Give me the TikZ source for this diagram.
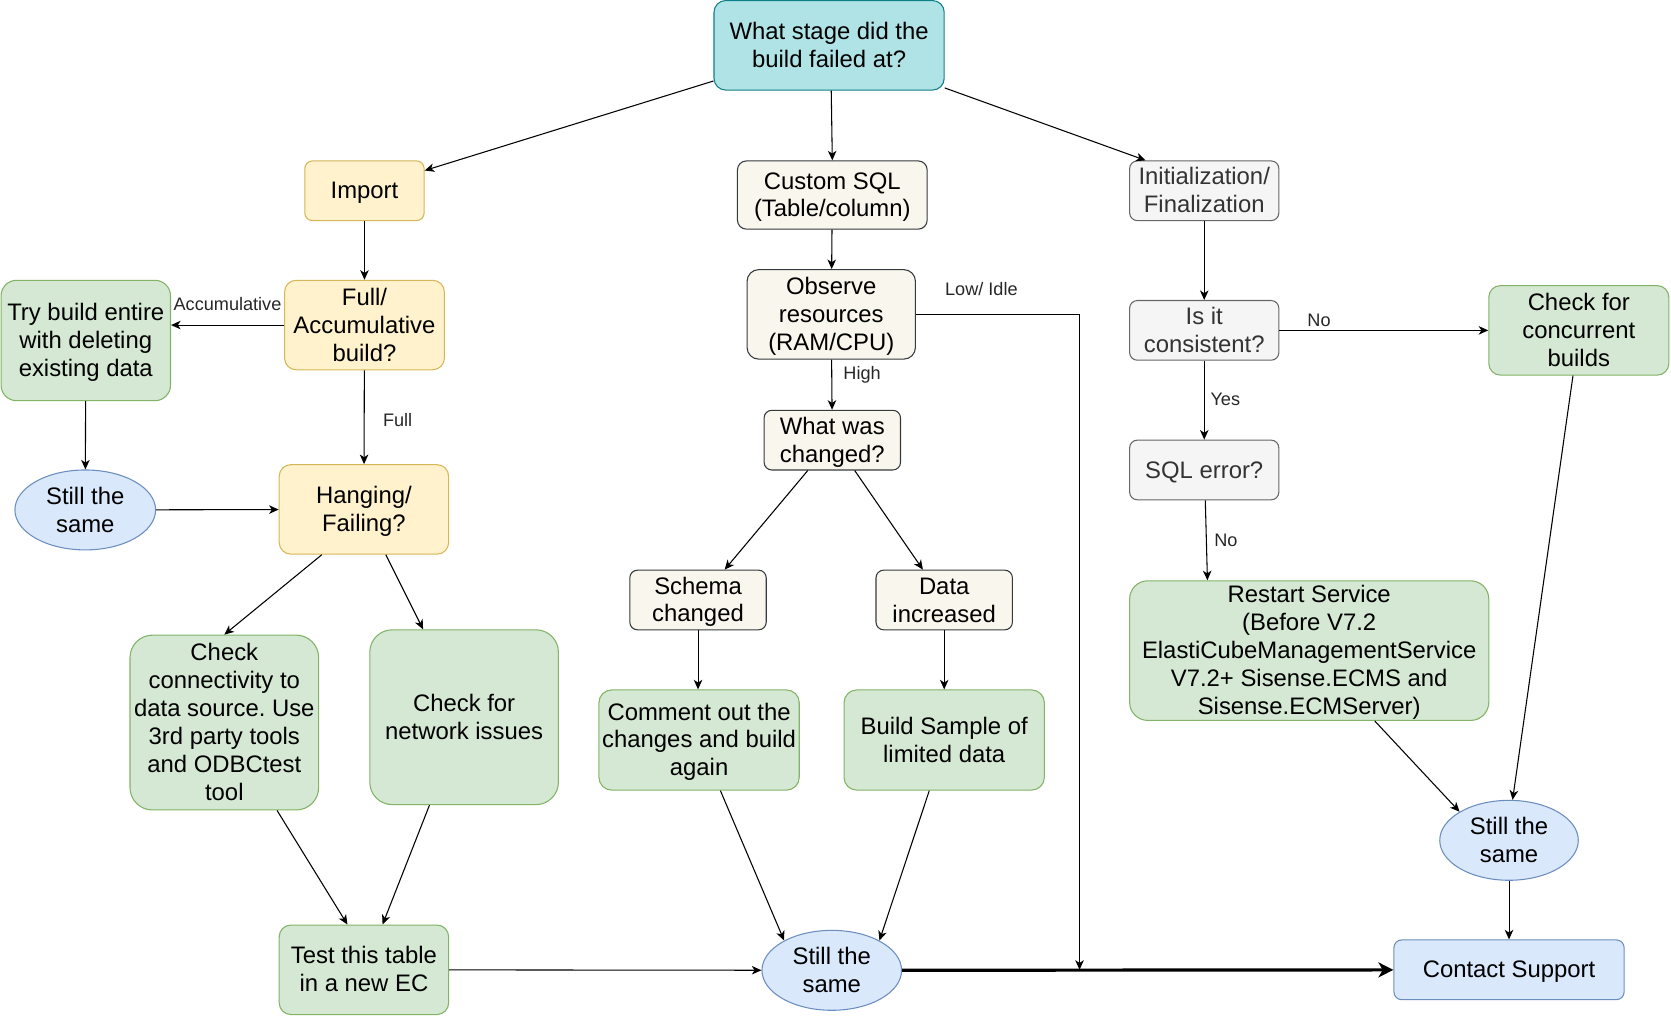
\documentclass[tikz,border=0pt]{standalone}
\usepackage{fontspec}
\setmainfont{Liberation Sans}
\usetikzlibrary{arrows.meta,shapes.geometric,positioning,calc}
\definecolor{yelF}{HTML}{FFF2CC}\definecolor{yelD}{HTML}{D6B656}
\definecolor{grnF}{HTML}{D5E8D4}\definecolor{grnD}{HTML}{82B366}
\definecolor{bluF}{HTML}{DAE8FC}\definecolor{bluD}{HTML}{6C8EBF}
\definecolor{begF}{HTML}{F9F7ED}\definecolor{begD}{HTML}{36393D}
\definecolor{gryF}{HTML}{F5F5F5}\definecolor{gryD}{HTML}{666666}\definecolor{gryT}{HTML}{333333}
\definecolor{tealF}{HTML}{B0E3E6}\definecolor{tealD}{HTML}{0E8088}
\newcommand\nstrutA{\vrule width 0pt height 9.8pt depth 0pt}
\newcommand\nstrutB{\vrule width 0pt height 0pt depth 2.2pt}
\tikzset{
  base/.style={draw, align=center, inner sep=0pt, line width=0.5pt,
    font=\fontsize{11.2}{13.1}\selectfont, text=black,
    execute at end node=\nstrutB},
  yel/.style={base, fill=yelF, draw=yelD},
  grn/.style={base, fill=grnF, draw=grnD},
  blu/.style={base, fill=bluF, draw=bluD},
  beg/.style={base, fill=begF, draw=begD},
  gry/.style={base, fill=gryF, draw=gryD, text=gryT},
  tealbox/.style={base, fill=tealF, draw=tealD},
  oval/.style={base, ellipse, fill=bluF, draw=bluD},
  lbl/.style={font=\fontsize{8.5}{10}\selectfont, inner sep=0pt, text=black!85},
  arr/.style={-{Stealth[length=4.5pt,width=4pt,inset=1.3pt]}, line width=0.5pt},
  bigarr/.style={-{Stealth[length=7pt,width=7pt,inset=2pt]}, line width=1.5pt}
}
\begin{document}
\frenchspacing
\begin{tikzpicture}[x=0.5pt,y=-0.5pt]
\useasboundingbox (0,0) rectangle (1568,954);

% nodes
\node[tealbox, minimum width=108pt, minimum height=42pt, rounded corners=5.5pt] (q0) at (778,42.5) {\nstrutA What stage did the\\build failed at?};
\node[yel, minimum width=56pt, minimum height=28pt, rounded corners=3.6pt] (imp) at (342,179) {\nstrutA Import};
\node[yel, minimum width=75pt, minimum height=42pt, rounded corners=5.5pt] (full) at (342,305) {\nstrutA Full/\\Accumulative\\build?};
\node[grn, minimum width=79.5pt, minimum height=56.5pt, rounded corners=7.3pt] (tryb) at (80.5,319.5) {\nstrutA Try build entire\\with deleting\\existing data};
\node[oval, minimum width=66pt, minimum height=37.5pt] (stl) at (80,478.5) {\nstrutA Still the\\same};
\node[yel, minimum width=79.5pt, minimum height=42pt, rounded corners=5.5pt] (hang) at (341.5,478) {\nstrutA Hanging/\\Failing?};
\node[grn, minimum width=88.5pt, minimum height=82pt, rounded corners=10.5pt] (conn) at (210.5,678) {\nstrutA Check\\connectivity to\\data source. Use\\3rd party tools\\and ODBCtest\\tool};
\node[grn, minimum width=88.5pt, minimum height=82pt, rounded corners=10.5pt] (netw) at (435.5,673) {\nstrutA Check for\\network issues};
\node[grn, minimum width=79.5pt, minimum height=42pt, rounded corners=5.5pt] (tst) at (341.5,910) {\nstrutA Test this table\\in a new EC};

\node[beg, minimum width=89pt, minimum height=32pt, rounded corners=4.2pt] (csql) at (781,183) {\nstrutA Custom SQL\\(Table/column)};
\node[beg, minimum width=79pt, minimum height=42pt, rounded corners=5.5pt] (obs) at (780,295) {\nstrutA Observe\\resources\\(RAM/CPU)};
\node[beg, minimum width=64pt, minimum height=28pt, rounded corners=3.6pt] (what) at (781,413) {\nstrutA What was\\changed?};
\node[beg, minimum width=64pt, minimum height=28pt, rounded corners=3.6pt] (schema) at (655,563) {\nstrutA Schema\\changed};
\node[beg, minimum width=64pt, minimum height=28pt, rounded corners=3.6pt] (dat) at (886,563) {\nstrutA Data\\increased};
\node[grn, minimum width=94pt, minimum height=47pt, rounded corners=6pt] (comm) at (656,694.4) {\nstrutA Comment out the\\changes and build\\again};
\node[grn, minimum width=94pt, minimum height=47pt, rounded corners=6pt] (bsam) at (886,694.4) {\nstrutA Build Sample of\\limited data};
\node[oval, minimum width=65.5pt, minimum height=37.5pt] (stc) at (780.5,910.5) {\nstrutA Still the\\same};

\node[gry, minimum width=70pt, minimum height=28pt, rounded corners=3.6pt] (init) at (1130,179) {\nstrutA Initialization/\\Finalization};
\node[gry, minimum width=70pt, minimum height=28pt, rounded corners=3.6pt] (isit) at (1130,310) {\nstrutA Is it\\consistent?};
\node[gry, minimum width=70pt, minimum height=28pt, rounded corners=3.6pt] (sqle) at (1130,441) {\nstrutA SQL error?};
\node[grn, minimum width=84.5pt, minimum height=42pt, rounded corners=5.5pt] (conc) at (1481.5,310) {\nstrutA Check for\\concurrent\\builds};
\node[grn, minimum width=168.5pt, minimum height=65.5pt, rounded corners=8.5pt] (rest) at (1228.5,610.5) {\nstrutA Restart Service\\(Before V7.2\\ElastiCubeManagementService\\V7.2+ Sisense.ECMS and\\Sisense.ECMServer)};
\node[oval, minimum width=65pt, minimum height=37.5pt] (str) at (1416,788.5) {\nstrutA Still the\\same};
\node[blu, minimum width=108pt, minimum height=28pt, rounded corners=3.6pt] (cont) at (1416,910) {\nstrutA Contact Support};

\coordinate (lowend) at (1013,910);

% connectors
\draw[arr] ([yshift=-16.75pt]q0.west) -- ([yshift=9.5pt]imp.east);
\draw[arr] ([xshift=1pt]q0.south) -- (csql.north);
\draw[arr] ([yshift=-20pt]q0.east) -- ([xshift=-27.5pt]init.north);
\draw[arr] (imp) -- (full);
\draw[arr] (full.west) -- (tryb.east |- full.west) node[lbl, midway, above=6.4pt] {Accumulative};
\draw[arr] (full) -- node[lbl, pos=0.53, right=8.6pt] {Full} (hang);
\draw[arr] (tryb) -- (stl);
\draw[arr] (stl) -- (hang);
\draw[arr] ([xshift=-19.75pt]hang.south) -- (conn.north);
\draw[arr] ([xshift=10.25pt]hang.south) -- ([xshift=-19.25pt]netw.north);
\draw[arr] ([xshift=24.75pt]conn.south) -- ([xshift=-7.75pt]tst.north);
\draw[arr] ([xshift=-16.25pt]netw.south) -- ([xshift=8.75pt]tst.north);
\draw[arr] (tst) -- (stc);

\draw[arr] (csql) -- (obs);
\draw[arr] (obs) -- node[lbl, pos=0.31, right=5.25pt] {High} (what);
\draw[arr] (obs.east) -| node[lbl, pos=0.2, above=8.4pt] {Low/ Idle} (lowend);
\draw[arr] ([xshift=-11.5pt]what.south) -- ([xshift=12.5pt]schema.north);
\draw[arr] ([xshift=10.5pt]what.south) -- ([xshift=-10pt]dat.north);
\draw[arr] (schema.south) -- (schema.south |- comm.north);
\draw[arr] (dat) -- (bsam);
\draw[arr] ([xshift=10pt]comm.south) -- (stc.148);
\draw[arr] ([xshift=-7pt]bsam.south) -- (stc.32);
\draw[bigarr] (stc) -- (cont);

\draw[arr] (init) -- (isit);
\draw[arr] (isit) -- node[lbl, pos=0.19, above=1.5pt] {No} (conc);
\draw[arr] (isit) -- node[lbl, pos=0.49, right=2.7pt] {Yes} (sqle);
\draw[arr] ([xshift=0.5pt]sqle.south) -- node[lbl, pos=0.5, right=3.5pt] {No} ([xshift=-47.75pt]rest.north);
\draw[arr] ([xshift=30.75pt]rest.south) -- (str.150);
\draw[arr] ([xshift=-2.75pt]conc.south) -- (str.85);
\draw[arr] (str) -- (cont);
\end{tikzpicture}
\end{document}
